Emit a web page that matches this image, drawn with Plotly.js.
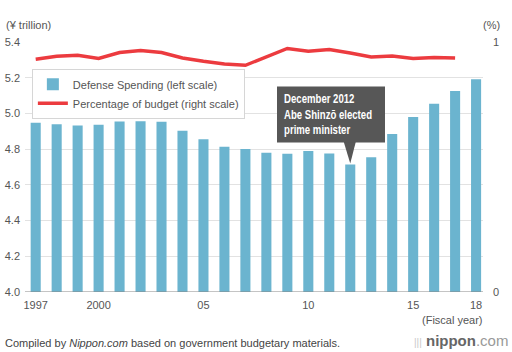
<!DOCTYPE html>
<html>
<head>
<meta charset="utf-8">
<script src="https://cdn.plot.ly/plotly-3.0.1.min.js"></script>
<style>
  html, body { margin: 0; padding: 0; background: #fff; }
  #chart { width: 512px; height: 352px; }
  /* condensed look for the callout box (no narrow font installed) */
  g.annotation[data-index="4"] {
    transform-box: fill-box;
    transform-origin: 50% 50%;
    transform: scaleX(0.8);
  }
</style>
</head>
<body>
<div id="chart"></div>
<script>
// ---- data ----
const years = [1997, 1998, 1999, 2000, 2001, 2002, 2003, 2004, 2005, 2006, 2007,
               2008, 2009, 2010, 2011, 2012, 2013, 2014, 2015, 2016, 2017, 2018];
const spending = [4.948, 4.940, 4.932, 4.936, 4.955, 4.956, 4.953, 4.903, 4.856, 4.814, 4.801,
                  4.780, 4.774, 4.790, 4.775, 4.714, 4.754, 4.885, 4.980, 5.054, 5.125, 5.191];
const share = [0.931, 0.943, 0.947, 0.934, 0.958, 0.966, 0.958, 0.936, 0.923, 0.912, 0.907,
               0.942, 0.974, 0.963, 0.970, 0.956, 0.940, 0.944, 0.934, 0.938, 0.936, null];
const tickYears = [1997, 2000, 2005, 2010, 2015, 2018];
const tickLabels = ['1997', '2000', '05', '10', '15', '18'];
const leftTicks = [4.0, 4.2, 4.4, 4.6, 4.8, 5.0, 5.2, 5.4];
const leftTickLabels = ['4.0', '4.2', '4.4', '4.6', '4.8', '5.0', '5.2', '5.4'];
const eventYear = 2012;
const eventLines = ['December 2012', 'Abe Shinzō elected', 'prime minister'];

const barColor = '#6bb4cf';
const lineColor = '#ec3b3f';
const textColor = '#555555';
const font = 'Liberation Sans, Arial, sans-serif';

const evIdx = years.indexOf(eventYear);
const evVal = spending[evIdx];

const traces = [
  {
    type: 'bar', x: years, y: spending, name: 'Defense Spending (left scale)',
    marker: { color: barColor }, width: 0.48, yaxis: 'y', hoverinfo: 'skip'
  },
  {
    type: 'scatter', mode: 'lines', x: years, y: share, name: 'Percentage of budget (right scale)',
    line: { color: lineColor, width: 3.4, shape: 'linear' }, yaxis: 'y2', hoverinfo: 'skip'
  }
];

const layout = {
  width: 512, height: 352,
  margin: { l: 25, r: 29, t: 41.7, b: 60.3 },
  paper_bgcolor: '#fff', plot_bgcolor: '#fff',
  font: { family: font, size: 11, color: textColor },
  showlegend: true,
  legend: {
    x: 0.015, y: 0.893, xanchor: 'left', yanchor: 'top',
    bgcolor: '#fff', bordercolor: '#d6d6d6', borderwidth: 1,
    font: { family: font, size: 11, color: textColor },
    tracegroupgap: 0, itemwidth: 30
  },
  xaxis: {
    range: [1996.49, 2018.33], tickvals: tickYears, ticktext: tickLabels,
    showgrid: false, zeroline: false, ticks: '', showline: false,
    ticklabelstandoff: 5,
    tickfont: { family: font, size: 11, color: textColor }
  },
  yaxis: {
    range: [4.0, 5.4], tickvals: leftTicks, ticktext: leftTickLabels,
    showgrid: true, gridcolor: '#e2e2e2', gridwidth: 1, zeroline: false,
    showline: false, ticks: '', ticklabelstandoff: 4,
    tickfont: { family: font, size: 11, color: textColor }
  },
  yaxis2: {
    range: [0, 1], tickvals: [0, 1], ticktext: ['0', '1'],
    overlaying: 'y', side: 'right', showgrid: false, zeroline: false,
    showline: false, ticks: '', ticklabelstandoff: 9,
    tickfont: { family: font, size: 11, color: textColor }
  },
  shapes: [
    { type: 'line', xref: 'paper', yref: 'y', x0: 0, x1: 1, y0: 4.0, y1: 4.0,
      line: { color: '#8a8a8a', width: 1.2 }, layer: 'above' },
    { type: 'path', xref: 'x', yref: 'y', layer: 'above',
      path: 'M ' + (eventYear - 0.33) + ' ' + (evVal + 0.135) +
            ' L ' + (eventYear + 0.28) + ' ' + (evVal + 0.135) +
            ' L ' + eventYear + ' ' + (evVal + 0.005) + ' Z',
      fillcolor: '#575757', line: { width: 0 } }
  ],
  annotations: [
    { text: '<b>Defense Spending Keeps Rising</b>', xref: 'paper', yref: 'paper',
      x: -0.052, y: 1.160, xanchor: 'left', yanchor: 'bottom', showarrow: false,
      font: { family: font, size: 16, color: '#222' } },
    { text: '(¥ trillion)', xref: 'paper', yref: 'paper', x: -0.046, y: 1.066,
      xanchor: 'left', yanchor: 'middle', showarrow: false,
      font: { family: font, size: 11, color: textColor } },
    { text: '(%)', xref: 'paper', yref: 'paper', x: 1.0186, y: 1.066,
      xanchor: 'center', yanchor: 'middle', showarrow: false,
      font: { family: font, size: 11, color: textColor } },
    { text: '(Fiscal year)', xref: 'paper', yref: 'paper', x: 1.005, y: -0.11,
      xanchor: 'right', yanchor: 'middle', showarrow: false,
      font: { family: font, size: 11, color: textColor } },
    { text: eventLines.map(s => '\u00a0' + s).join('<br>'), xref: 'x', yref: 'y',
      x: eventYear - 0.93, y: evVal + 0.282,
      xanchor: 'center', yanchor: 'middle', showarrow: false, align: 'left',
      width: 124, bgcolor: '#575757', borderpad: 5,
      font: { family: font, size: 12, color: '#fff', weight: 'bold' } },
    { text: 'Compiled by <i>Nippon.com</i> based on government budgetary materials.',
      xref: 'paper', yref: 'paper', x: -0.049, y: -0.205, xanchor: 'left', yanchor: 'middle',
      showarrow: false, font: { family: font, size: 11, color: '#444' } },
    { text: '<span style="color:#c8c8c8;font-size:10px">|||</span> <b>nippon</b><span style="color:#999">.com</span>',
      xref: 'paper', yref: 'paper', x: 1.058, y: -0.194, xanchor: 'right', yanchor: 'middle',
      showarrow: false, font: { family: font, size: 15, color: '#666' } }
  ]
};

Plotly.newPlot('chart', traces, layout, { staticPlot: true, displayModeBar: false });
</script>
</body>
</html>
